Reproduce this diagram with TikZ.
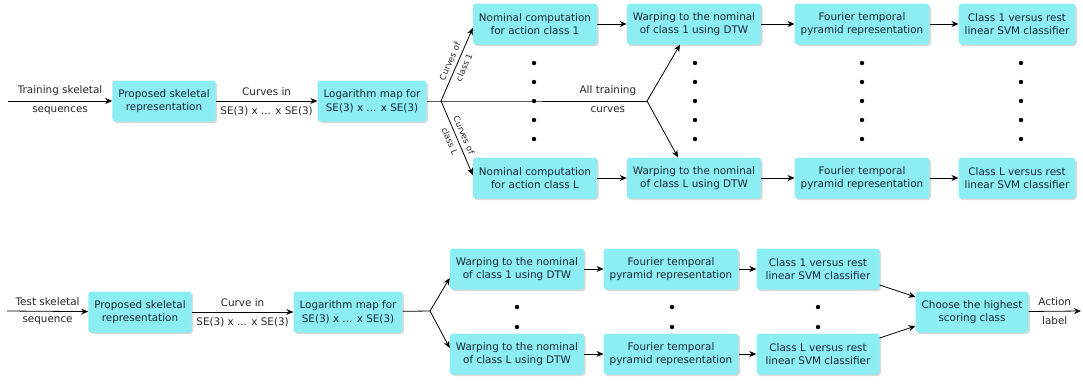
\documentclass[tikz,border=0pt]{standalone}
\usepackage{fontspec}
\setmainfont{DejaVu Sans}
\usetikzlibrary{arrows.meta,shadows}

\begin{document}
\begin{tikzpicture}[x=1pt,y=-1pt]
  \definecolor{boxfill}{rgb}{0.55,0.93,0.95}
  \definecolor{boxtext}{rgb}{0.10,0.16,0.22}
  \tikzstyle{stage}=[rectangle,rounded corners=3pt,fill=boxfill,text=boxtext,align=center,minimum height=41pt,inner xsep=6pt,drop shadow={opacity=0.3,shadow xshift=1.5pt,shadow yshift=-1.5pt},font=\fontsize{10.4}{13.5}\selectfont]
  \tikzstyle{flow}=[-{Stealth[length=7pt,width=6pt]},line width=0.8pt]
  \tikzstyle{tag}=[font=\fontsize{10.4}{13}\selectfont,text=black!85]
  \tikzstyle{smalltag}=[font=\fontsize{8.5}{10}\selectfont,text=black!85,inner sep=1pt]
  \useasboundingbox (0,0) rectangle (1083,383);

  % training
  \coordinate (tin) at (8,101);
  \node (prop1) at (164,101) [stage] {Proposed skeletal\\representation};
  \node (log1)  at (372,101) [stage] {Logarithm map for\\SE(3) x ... x SE(3)};
  \node (nom1)  at (535,24)  [stage] {Nominal computation\\for action class 1};
  \node (nomL)  at (535,178) [stage] {Nominal computation\\for action class L};
  \node (warp1) at (694,24)  [stage] {Warping to the nominal\\of class 1 using DTW};
  \node (warpL) at (694,178) [stage] {Warping to the nominal\\of class L using DTW};
  \node (four1) at (862,24)  [stage] {Fourier temporal\\pyramid representation};
  \node (fourL) at (862,178) [stage] {Fourier temporal\\pyramid representation};
  \node (svm1)  at (1017,24)  [stage] {Class 1 versus rest\\linear SVM classifier};
  \node (svmL)  at (1017,178) [stage] {Class L versus rest\\linear SVM classifier};
  \coordinate (fork1) at (441,101);
  \coordinate (fork2) at (647,101);

  \draw[flow] (tin) -- node[tag,above=2pt]{Training skeletal} node[tag,below=2pt]{sequences} (prop1);
  \draw[flow] (prop1) -- node[tag,above=2pt]{Curves in} node[tag,below=2pt]{SE(3) x ... x SE(3)} (log1);
  \draw[line width=0.8pt] (log1) -- (fork1) -- node[pos=0.81,tag,above=2pt]{All training} node[pos=0.81,tag,below=2pt]{curves} (fork2);
  \draw[flow] (fork1) -- node[smalltag,sloped,above=3pt]{Curves of} node[smalltag,sloped,below=3pt]{class 1} ([yshift=-4pt]nom1.west);
  \draw[flow] (fork1) -- node[smalltag,sloped,above=3pt]{Curves of} node[smalltag,sloped,below=3pt]{class L} ([yshift=3pt]nomL.west);
  \draw[flow] (fork2) -- ([xshift=-14pt]warp1.south);
  \draw[flow] (fork2) -- ([xshift=-16pt]warpL.north);
  \draw[flow] (nom1) -- (warp1);
  \draw[flow] (nomL) -- (warpL);
  \draw[flow] (warp1) -- (four1);
  \draw[flow] (warpL) -- (fourL);
  \draw[flow] (four1) -- (svm1);
  \draw[flow] (fourL) -- (svmL);
  \foreach \x in {534,695,862,1021}
    \foreach \y in {63,82,101,120,139}
      \fill (\x,\y) circle (2.2pt);

  % testing
  \coordinate (sin) at (7,311);
  \coordinate (sout) at (1081,311);
  \node (prop2)  at (140,312) [stage] {Proposed skeletal\\representation};
  \node (log2)   at (348,312) [stage] {Logarithm map for\\SE(3) x ... x SE(3)};
  \node (warp1b) at (517,269) [stage] {Warping to the nominal\\of class 1 using DTW};
  \node (warpLb) at (517,354) [stage] {Warping to the nominal\\of class L using DTW};
  \node (four1b) at (671,269) [stage] {Fourier temporal\\pyramid representation};
  \node (fourLb) at (671,354) [stage] {Fourier temporal\\pyramid representation};
  \node (svm1b)  at (818,269) [stage,minimum width=123pt] {Class 1 versus rest\\linear SVM classifier};
  \node (svmLb)  at (818,354) [stage,minimum width=123pt] {Class L versus rest\\linear SVM classifier};
  \node (choose) at (972,312) [stage] {Choose the highest\\scoring class};
  \coordinate (fork3) at (430,311);

  \draw[flow] (sin) -- node[tag,above=2pt]{Test skeletal} node[tag,below=2pt]{sequence} (prop2);
  \draw[flow] (prop2) -- node[tag,above=2pt]{Curve in} node[tag,below=2pt]{SE(3) x ... x SE(3)} (log2);
  \draw[line width=0.8pt] (log2) -- (fork3);
  \draw[flow] (fork3) -- ([yshift=-9pt]warp1b.west);
  \draw[flow] (fork3) -- ([yshift=6pt]warpLb.west);
  \draw[flow] (warp1b) -- (four1b);
  \draw[flow] (warpLb) -- (fourLb);
  \draw[flow] (four1b) -- (svm1b);
  \draw[flow] (fourLb) -- (svmLb);
  \draw[flow] ([yshift=-16pt]svm1b.east) -- ([yshift=15pt]choose.west);
  \draw[flow] ([yshift=16pt]svmLb.east) -- ([yshift=-14pt]choose.west);
  \draw[flow] (choose) -- node[tag,above=2pt]{Action} node[tag,below=2pt]{label} (sout);
  \foreach \x in {517,672,818}
    \foreach \y in {307,327}
      \fill (\x,\y) circle (2.2pt);
\end{tikzpicture}
\end{document}
